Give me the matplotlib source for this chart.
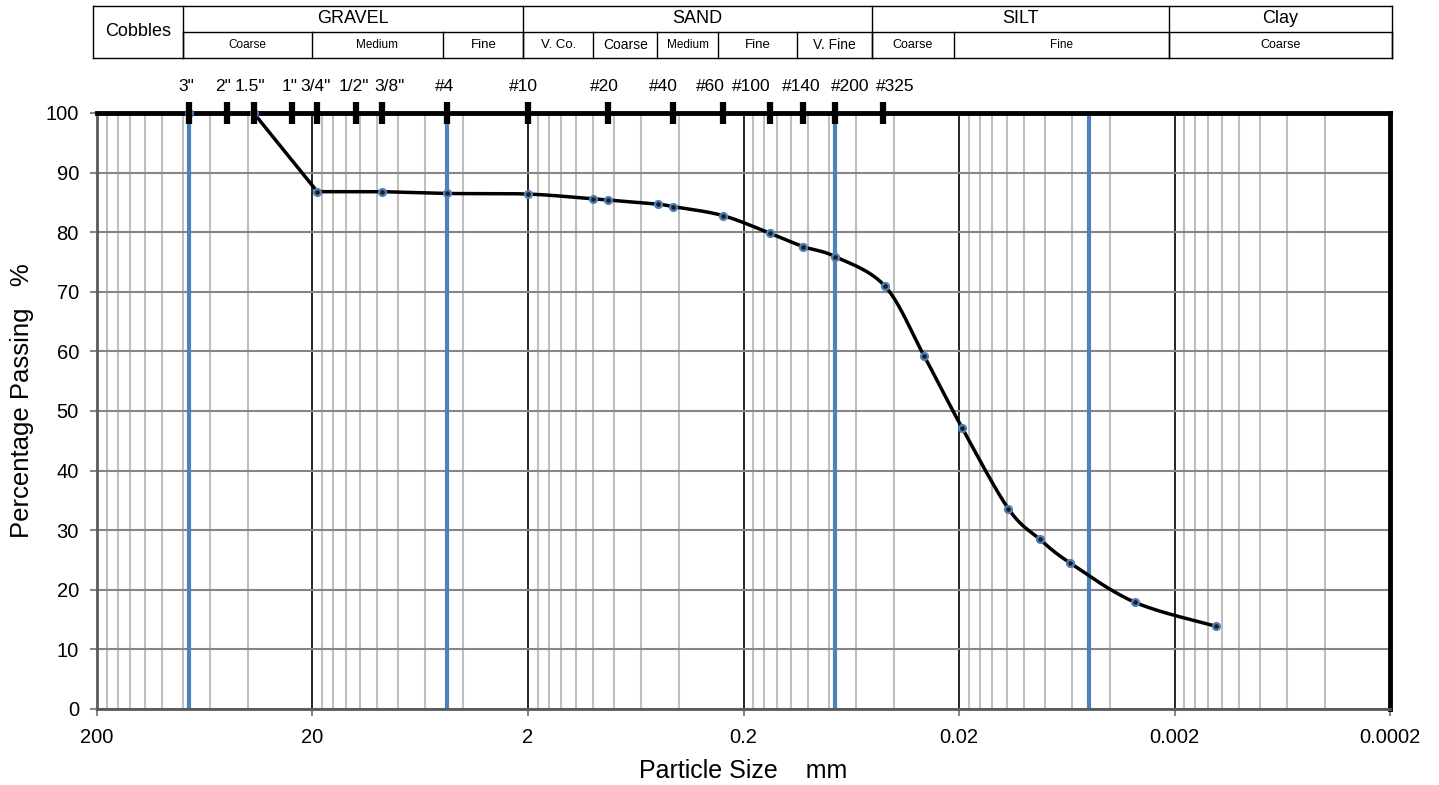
import numpy as np
import matplotlib
matplotlib.use('Agg')
import matplotlib.pyplot as plt
from matplotlib.ticker import FixedLocator, NullFormatter
import matplotlib.transforms as mtransforms

plt.rcParams['font.family'] = ['Liberation Sans', 'DejaVu Sans']

# grain size distribution (mm, % passing)
sizes = [75, 37.5, 19, 9.5, 4.75, 2.0, 1.0, 0.85, 0.5, 0.425, 0.25, 0.15, 0.106,
         0.075, 0.044, 0.029, 0.0193, 0.0118, 0.00845, 0.0061, 0.00305, 0.00129]
passing = [100, 100, 86.8, 86.8, 86.5, 86.4, 85.6, 85.4, 84.7, 84.3, 82.8, 79.8, 77.6,
           75.9, 70.9, 59.2, 47.1, 33.6, 28.5, 24.5, 17.9, 13.9]

# sieve marks along the top
sieve_labels = ['3"', '2"', '1.5"', '1"', '3/4"', '1/2"', '3/8"', '#4', '#10', '#20',
                '#40', '#60', '#100', '#140', '#200', '#325']
sieve_sizes = [75, 50, 37.5, 25, 19, 12.5, 9.5, 4.75, 2.0, 0.85, 0.425, 0.25, 0.15,
               0.106, 0.075, 0.045]
# horizontal nudge of each label (points), labels are not centred on their marks
sieve_nudge = [-2, -2.5, -2.4, -1.5, -1, -2.2, 5.6, -2, -3, -2.4, -7, -9, -13.5, -1.1,
               11, 9]

# blue reference lines
blue_sizes = [75, 4.75, 0.075, 0.005]

# x axis
x_major = [200, 20, 2, 0.2, 0.02, 0.002, 0.0002]
x_major_labels = ['200', '20', '2', '0.2', '0.02', '0.002', '0.0002']

# classification table (boundaries in mm)
main_edges = [80, 2.1, 0.0508, 0.00213, 0.000195]
main_names = ['GRAVEL', 'SAND', 'SILT', 'Clay']
sub_edges = [80, 20.2, 4.94, 2.1, 0.995, 0.502, 0.263, 0.1125, 0.0508, 0.0212,
             0.00213, 0.000195]
sub_names = ['Coarse', 'Medium', 'Fine', 'V. Co.', 'Coarse', 'Medium', 'Fine',
             'V. Fine', 'Coarse', 'Fine', 'Coarse']
sub_fs = [8.5, 8.5, 9.5, 9.5, 10, 8.5, 9.5, 10, 9, 8.5, 9]
cobbles_edges = [208, 80]


def smooth(xs, ys, n=30):
    # bezier smoothing in (log x, y); segments next to flat runs stay straight
    p = np.column_stack([np.log10(xs), ys])
    m = len(p)
    tang = np.zeros_like(p)
    for i in range(m):
        a = p[max(i - 1, 0)]
        b = p[min(i + 1, m - 1)]
        tang[i] = (b - a) / 2
    flat = [p[i + 1, 1] == p[i, 1] for i in range(m - 1)]
    t = np.linspace(0, 1, n)[:, None]
    out = []
    for i in range(m - 1):
        p0, p3 = p[i], p[i + 1]
        chord = p3 - p0
        t0 = tang[i]
        t1 = tang[i + 1]
        if flat[i] or (i > 0 and flat[i - 1]):
            t0 = chord
        if flat[i] or (i + 1 < m - 1 and flat[i + 1]):
            t1 = chord
        c1 = p0 + t0 / 3
        c2 = p3 - t1 / 3
        seg = ((1 - t) ** 3 * p0 + 3 * (1 - t) ** 2 * t * c1
               + 3 * (1 - t) * t ** 2 * c2 + t ** 3 * p3)
        out.append(seg if i == 0 else seg[1:])
    s = np.vstack(out)
    return 10 ** s[:, 0], s[:, 1]


fig = plt.figure(figsize=(14.39, 7.85), dpi=100)
ax = fig.add_axes([97 / 1439, 1 - 709 / 785, (1390 - 97) / 1439, (709 - 113) / 785])

ax.set_xscale('log')
ax.set_xlim(200, 0.0002)
ax.set_ylim(0, 100)

# gridlines
minor = []
for b in x_major[1:]:
    for k in range(2, 10):
        minor.append(b * k)
ax.xaxis.set_major_locator(FixedLocator(x_major))
ax.xaxis.set_minor_locator(FixedLocator(minor))
ax.xaxis.set_minor_formatter(NullFormatter())
ax.set_xticklabels(x_major_labels)
ax.set_yticks(range(0, 101, 10))
ax.grid(True, which='minor', axis='x', color='#bfbfbf', lw=1.5, zorder=1)
ax.grid(True, which='major', axis='x', color='black', lw=1.2, zorder=1)
ax.grid(True, which='major', axis='y', color='#868686', lw=1.5, zorder=1)
ax.tick_params(axis='x', which='minor', length=0)
ax.tick_params(axis='both', which='major', length=5, color='#868686', width=1.5,
               labelsize=14.5)
ax.tick_params(axis='y', pad=8)
ax.tick_params(axis='x', pad=9)

for b in blue_sizes:
    ax.axvline(b, color='#4f81bd', lw=3, zorder=2)

for side in ['left', 'bottom']:
    ax.spines[side].set_color('#595959')
    ax.spines[side].set_linewidth(2)
for side in ['top', 'right']:
    ax.spines[side].set_color('black')
    ax.spines[side].set_linewidth(3.5)

# curve
sx, sy = smooth(sizes, passing)
ax.plot(sx, sy, color='black', lw=2.5, zorder=4)
ax.plot(sizes, passing, 'o', ms=5, mfc='#1f1f1f', mec='#4f81bd', mew=1.6,
        zorder=5, clip_on=False)

# sieve marks and labels
trans = mtransforms.blended_transform_factory(ax.transData, ax.transAxes)
for s, lab, dx in zip(sieve_sizes, sieve_labels, sieve_nudge):
    ax.plot([s, s], [1 - 0.019, 1 + 0.019], color='black', lw=4.5, transform=trans,
            clip_on=False, zorder=6, solid_capstyle='butt')
    tr = trans + mtransforms.ScaledTranslation(dx / 72, 0, fig.dpi_scale_trans)
    ax.text(s, 1.044, lab, transform=tr, ha='center', va='center', fontsize=12.5)

ax.set_xlabel('Particle Size    mm', fontsize=18, labelpad=8)
ax.set_ylabel('Percentage Passing   %', fontsize=18.5)
ax.yaxis.set_label_coords(-0.049, 0.517)

# classification table above the plot
y_top, y_mid, y_bot = (709 - 6) / 596, (709 - 32) / 596, (709 - 58) / 596
kw = dict(transform=trans, clip_on=False, color='black', lw=1)
ax.plot([cobbles_edges[0], main_edges[-1]], [y_top, y_top], **kw)
ax.plot([cobbles_edges[0], main_edges[-1]], [y_bot, y_bot], **kw)
ax.plot([main_edges[0], main_edges[-1]], [y_mid, y_mid], **kw)
ax.plot([cobbles_edges[0]] * 2, [y_bot, y_top], **kw)
for e in main_edges:
    ax.plot([e, e], [y_bot, y_top], **kw)
for e in sub_edges:
    ax.plot([e, e], [y_bot, y_mid], **kw)
ax.text(np.sqrt(cobbles_edges[0] * cobbles_edges[1]), (y_top + y_bot) / 2, 'Cobbles',
        transform=trans, ha='center', va='center', fontsize=13)
for a, b, name in zip(main_edges[:-1], main_edges[1:], main_names):
    ax.text(np.sqrt(a * b), (y_top + y_mid) / 2, name, transform=trans,
            ha='center', va='center', fontsize=13)
for a, b, name, fs in zip(sub_edges[:-1], sub_edges[1:], sub_names, sub_fs):
    ax.text(np.sqrt(a * b), (y_mid + y_bot) / 2, name, transform=trans,
            ha='center', va='center', fontsize=fs)

fig.savefig('out.png', dpi=100)
